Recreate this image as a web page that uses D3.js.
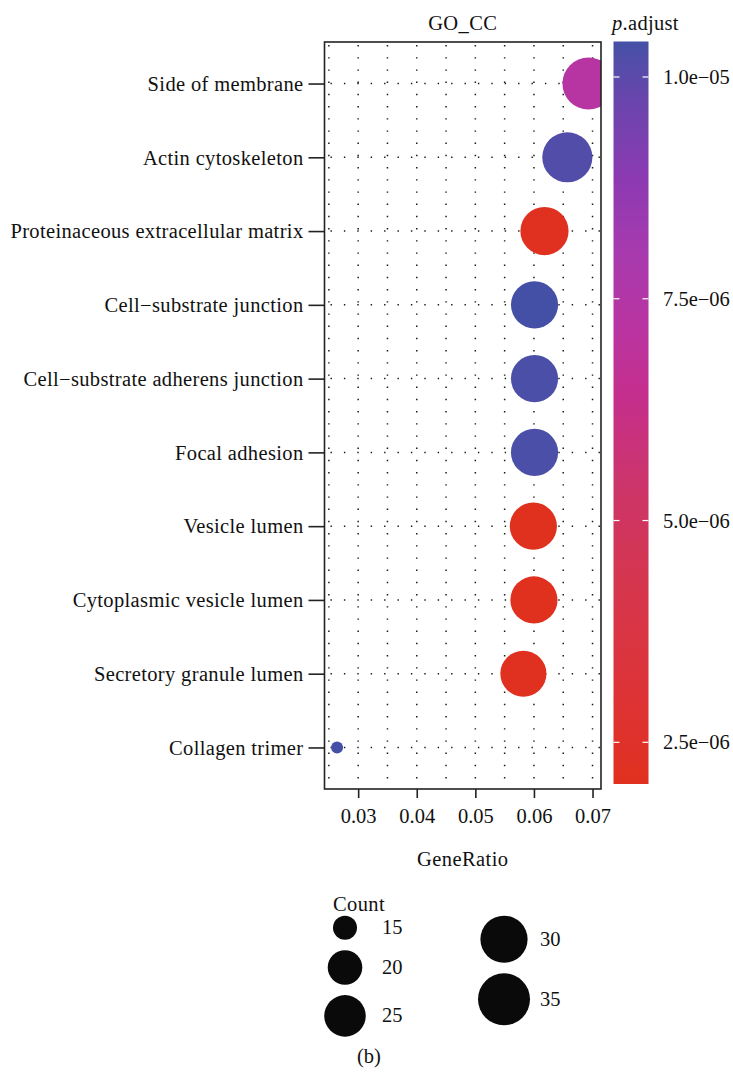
<!DOCTYPE html>
<html>
<head>
<meta charset="utf-8">
<script src="https://cdn.jsdelivr.net/npm/d3@7"></script>
<style>
  html, body { margin: 0; padding: 0; background: #fff; }
  svg { display: block; }
  text { font-family: "Liberation Serif", "DejaVu Serif", serif; fill: #111; }
</style>
</head>
<body>
<svg id="chart" width="733" height="1074"></svg>
<script>
// ---------------- data ----------------
const categories = [
  "Side of membrane",
  "Actin cytoskeleton",
  "Proteinaceous extracellular matrix",
  "Cell\u2212substrate junction",
  "Cell\u2212substrate adherens junction",
  "Focal adhesion",
  "Vesicle lumen",
  "Cytoplasmic vesicle lumen",
  "Secretory granule lumen",
  "Collagen trimer"
];
const geneRatio = [0.0693, 0.0657, 0.0618, 0.0601, 0.0601, 0.0601, 0.0599, 0.0600, 0.0582, 0.0264];
const counts    = [35, 33, 31, 30, 30, 30, 30, 30, 29, 13];
const pAdjust   = [7.3e-6, 1.02e-5, 2.08e-6, 1.04e-5, 1.03e-5, 1.03e-5, 2.03e-6, 2.03e-6, 2.05e-6, 1.04e-5];

const xTicks = [0.03, 0.04, 0.05, 0.06, 0.07];
const xTickLabels = ["0.03", "0.04", "0.05", "0.06", "0.07"];
const xGrid = [0.025, 0.03, 0.035, 0.04, 0.045, 0.05, 0.055, 0.06, 0.065, 0.07];
const colorTicks = [2.5e-6, 5.0e-6, 7.5e-6, 1.0e-5];
const colorTickLabels = ["2.5e\u221206", "5.0e\u221206", "7.5e\u221206", "1.0e\u221205"];
const sizeBreaks = [15, 20, 25, 30, 35];

// ---------------- layout ----------------
const P = { left: 324.5, right: 601, top: 42, bottom: 789 };
const CB = { x: 613.5, w: 35, top: 41.5, bottom: 784 };
const FS = 20.5;

const svg = d3.select("#chart");

// scales
const xExt = d3.extent(geneRatio);
const xPad = (xExt[1] - xExt[0]) * 0.05;
const x = d3.scaleLinear().domain([xExt[0] - xPad, xExt[1] + xPad]).range([P.left, P.right]);
const y = d3.scalePoint().domain(categories).range([P.top, P.bottom]).padding(0.563);

const cMin = d3.min(counts), cMax = d3.max(counts);
const dMin = 12, dMax = 52;
const diam = c => dMin + (dMax - dMin) * Math.sqrt(Math.max(0, c - cMin) / (cMax - cMin));

const pExt = d3.extent(pAdjust);
const stopT = [0, 0.12, 0.27, 0.40, 0.52, 0.62, 0.72, 0.82, 0.92, 1];
const stopC = ["#E0301E", "#DD3336", "#D6364E", "#CC3569", "#C52E8C", "#B834A2", "#A63AAE", "#8A3AB2", "#6A45AC", "#4450A6"];
const tScale = d3.scaleLinear().domain(pExt).range([0, 1]);
const cScale = d3.scaleLinear().domain(stopT).range(stopC).interpolate(d3.interpolateLab);
const color = p => cScale(tScale(p));

// ---------------- panel ----------------
svg.append("clipPath").attr("id", "panelClip")
  .append("rect").attr("x", P.left).attr("y", P.top)
  .attr("width", P.right - P.left).attr("height", P.bottom - P.top);

const grid = svg.append("g").attr("stroke", "#1a1a1a").attr("stroke-width", 1.5).attr("fill", "none");
grid.selectAll("line.v").data(xGrid).join("line")
  .attr("x1", d => x(d)).attr("x2", d => x(d))
  .attr("y1", P.top + 3).attr("y2", P.bottom)
  .attr("stroke-dasharray", "1.4,10.8");
grid.selectAll("line.h").data(categories).join("line")
  .attr("x1", P.left + 6).attr("x2", P.right)
  .attr("y1", d => y(d)).attr("y2", d => y(d))
  .attr("stroke-dasharray", "1.4,12");

const pts = categories.map((c, i) => ({ c, r: geneRatio[i], n: counts[i], p: pAdjust[i] }));
svg.append("g").attr("clip-path", "url(#panelClip)")
  .selectAll("circle").data(pts).join("circle")
  .attr("cx", d => x(d.r)).attr("cy", d => y(d.c))
  .attr("r", d => diam(d.n) / 2)
  .attr("fill", d => color(d.p));

svg.append("rect").attr("x", P.left).attr("y", P.top)
  .attr("width", P.right - P.left).attr("height", P.bottom - P.top)
  .attr("fill", "none").attr("stroke", "#222").attr("stroke-width", 1.6);

// y axis
const yAxis = d3.axisLeft(y).tickSize(16).tickPadding(5);
const gy = svg.append("g").attr("transform", `translate(${P.left},0)`).call(yAxis);
gy.select(".domain").remove();
gy.selectAll(".tick line").attr("stroke", "#222").attr("stroke-width", 1.6);
gy.selectAll(".tick text").attr("font-size", FS).attr("font-family", "Liberation Serif")
  .attr("fill", "#111").attr("letter-spacing", "0.35px").attr("dy", "0.33em");

// x axis
const xAxis = d3.axisBottom(x).tickValues(xTicks).tickFormat((d, i) => xTickLabels[i]).tickSize(9).tickPadding(10);
const gx = svg.append("g").attr("transform", `translate(0,${P.bottom})`).call(xAxis);
gx.select(".domain").remove();
gx.selectAll(".tick line").attr("stroke", "#222").attr("stroke-width", 1.6);
gx.selectAll(".tick text").attr("font-size", FS).attr("font-family", "Liberation Serif").attr("fill", "#111");

// titles
svg.append("text").attr("x", (P.left + P.right) / 2).attr("y", 30)
  .attr("text-anchor", "middle").attr("font-size", FS).attr("letter-spacing", "0.4px").text("GO_CC");
svg.append("text").attr("x", (P.left + P.right) / 2).attr("y", 866)
  .attr("text-anchor", "middle").attr("font-size", FS).attr("letter-spacing", "0.4px").text("GeneRatio");

// ---------------- colour bar ----------------
const cbY = d3.scaleLinear().domain(pExt).range([CB.bottom, CB.top]);
const grad = svg.append("defs").append("linearGradient").attr("id", "cbGrad")
  .attr("x1", 0).attr("y1", 1).attr("x2", 0).attr("y2", 0);
d3.range(0, 1.0001, 0.02).forEach(t => {
  grad.append("stop").attr("offset", t).attr("stop-color", cScale(t));
});
svg.append("rect").attr("x", CB.x).attr("y", CB.top).attr("width", CB.w)
  .attr("height", CB.bottom - CB.top).attr("fill", "url(#cbGrad)");
const cbT = svg.append("g");
cbT.selectAll("line.l").data(colorTicks).join("line")
  .attr("x1", CB.x).attr("x2", CB.x + 6).attr("y1", d => cbY(d)).attr("y2", d => cbY(d))
  .attr("stroke", "#fff").attr("stroke-width", 1.2);
cbT.selectAll("line.r").data(colorTicks).join("line")
  .attr("x1", CB.x + CB.w - 6).attr("x2", CB.x + CB.w).attr("y1", d => cbY(d)).attr("y2", d => cbY(d))
  .attr("stroke", "#fff").attr("stroke-width", 1.2);
cbT.selectAll("text").data(colorTicks).join("text")
  .attr("x", 663).attr("y", d => cbY(d) + 7)
  .attr("font-size", FS).text((d, i) => colorTickLabels[i]);

const pt = svg.append("text").attr("x", 612).attr("y", 30).attr("font-size", FS).attr("letter-spacing", "0.3px");
pt.append("tspan").attr("font-style", "italic").text("p");
pt.append("tspan").text(".adjust");

// ---------------- size legend ----------------
svg.append("text").attr("x", 333).attr("y", 910.5).attr("font-size", FS).attr("letter-spacing", "0.4px").text("Count");
const legCols = [
  { keys: sizeBreaks.slice(0, 3), cx: 345, lx: 382 },
  { keys: sizeBreaks.slice(3), cx: 504, lx: 540 }
];
const legTop = 910.5, keyGap = 10.4;
legCols.forEach(col => {
  let yy = legTop;
  col.keys.forEach(k => {
    const d = diam(k);
    const cy = yy + (d + keyGap) / 2;
    svg.append("circle").attr("cx", col.cx).attr("cy", cy).attr("r", d / 2).attr("fill", "#0a0a0a");
    svg.append("text").attr("x", col.lx).attr("y", cy + 6.5).attr("font-size", FS).text(k);
    yy += d + keyGap;
  });
});

svg.append("text").attr("x", 369).attr("y", 1063).attr("text-anchor", "middle")
  .attr("font-size", FS).text("(b)");
</script>
</body>
</html>
